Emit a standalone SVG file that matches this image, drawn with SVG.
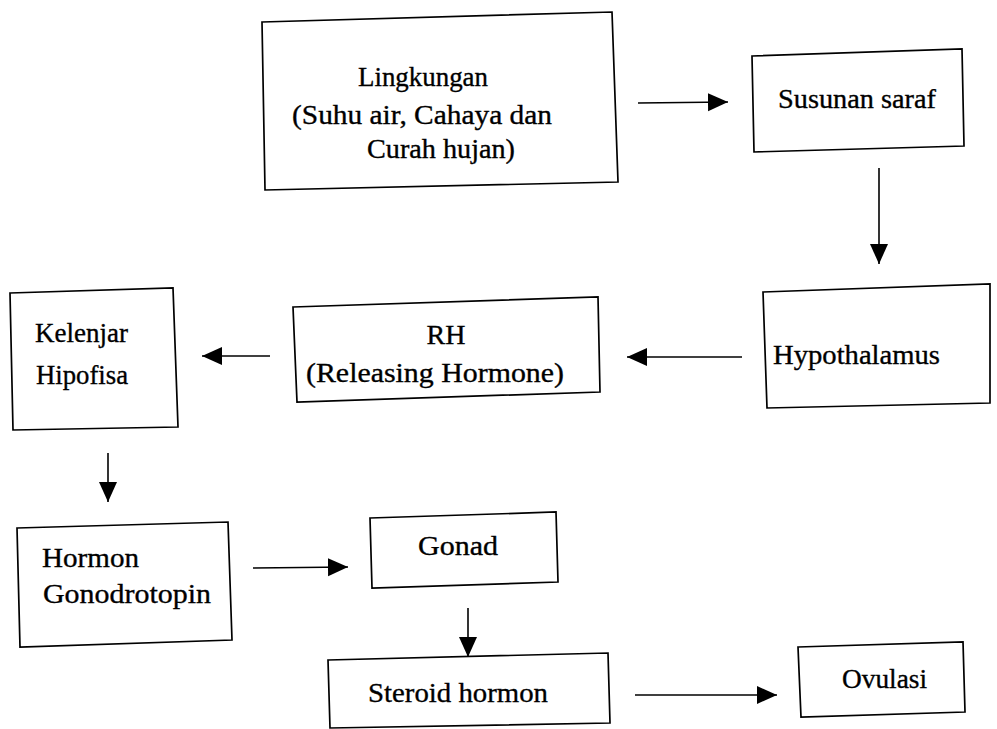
<svg xmlns="http://www.w3.org/2000/svg" width="997" height="729" viewBox="0 0 997 729">
<style>
.box{fill:#fff;stroke:#000;stroke-width:1.7}
.t{font-family:"Liberation Serif","Times New Roman",serif;font-size:28px;fill:#000;stroke:#000;stroke-width:0.35}
.c{stroke:#000;stroke-width:1.6;fill:none;marker-end:url(#ah)}
</style>
<defs>
<marker id="ah" markerUnits="userSpaceOnUse" markerWidth="22" markerHeight="20" refX="20" refY="9" orient="auto">
<path d="M0,0 L20,9 L0,18 Z" fill="#000"/>
</marker>
</defs>
<rect width="997" height="729" fill="#fff"/>
<g id="connectors">
<line class="c" x1="638" y1="103" x2="728" y2="102"/>
<line class="c" x1="879" y1="168" x2="879" y2="264"/>
<line class="c" x1="742" y1="357" x2="627" y2="357"/>
<line class="c" x1="270" y1="356" x2="202" y2="356"/>
<line class="c" x1="108" y1="453" x2="108" y2="502"/>
<line class="c" x1="253" y1="568" x2="348" y2="567"/>
<line class="c" x1="468" y1="608" x2="468" y2="657"/>
<line class="c" x1="635" y1="695" x2="777" y2="695"/>
</g>
<g id="lingkungan">
<polygon class="box" points="262,22 612,12 618,182 265,190"/>
<text class="t" x="358" y="86" textLength="130" lengthAdjust="spacingAndGlyphs">Lingkungan</text>
<text class="t" x="292" y="124" textLength="260" lengthAdjust="spacingAndGlyphs">(Suhu air, Cahaya dan</text>
<text class="t" x="367" y="158" textLength="148" lengthAdjust="spacingAndGlyphs">Curah hujan)</text>
</g>
<g id="susunan-saraf">
<polygon class="box" points="752,56 962,49 964,146 754,152"/>
<text class="t" x="778" y="108" textLength="158" lengthAdjust="spacingAndGlyphs">Susunan saraf</text>
</g>
<g id="hypothalamus">
<polygon class="box" points="763,292 990,284 990,403 767,408"/>
<text class="t" x="773" y="364" textLength="167" lengthAdjust="spacingAndGlyphs">Hypothalamus</text>
</g>
<g id="rh">
<polygon class="box" points="293,307 598,297 600,392 297,402"/>
<text class="t" x="446" y="344" text-anchor="middle">RH</text>
<text class="t" x="306" y="382" textLength="258" lengthAdjust="spacingAndGlyphs">(Releasing Hormone)</text>
</g>
<g id="kelenjar-hipofisa">
<polygon class="box" points="10,293 173,288 178,427 13,430"/>
<text class="t" x="35" y="342" textLength="93" lengthAdjust="spacingAndGlyphs">Kelenjar</text>
<text class="t" x="36" y="384" textLength="92" lengthAdjust="spacingAndGlyphs">Hipofisa</text>
</g>
<g id="hormon-gonodrotopin">
<polygon class="box" points="17,528 228,522 232,640 20,647"/>
<text class="t" x="42" y="567" textLength="97" lengthAdjust="spacingAndGlyphs">Hormon</text>
<text class="t" x="43" y="603" textLength="168" lengthAdjust="spacingAndGlyphs">Gonodrotopin</text>
</g>
<g id="gonad">
<polygon class="box" points="370,518 556,512 558,582 372,588"/>
<text class="t" x="418" y="555" textLength="80" lengthAdjust="spacingAndGlyphs">Gonad</text>
</g>
<g id="steroid-hormon">
<polygon class="box" points="328,660 608,653 610,723 330,728"/>
<text class="t" x="368" y="702" textLength="180" lengthAdjust="spacingAndGlyphs">Steroid hormon</text>
</g>
<g id="ovulasi">
<polygon class="box" points="798,647 963,642 965,712 801,717"/>
<text class="t" x="842" y="688" textLength="85" lengthAdjust="spacingAndGlyphs">Ovulasi</text>
</g>
</svg>
